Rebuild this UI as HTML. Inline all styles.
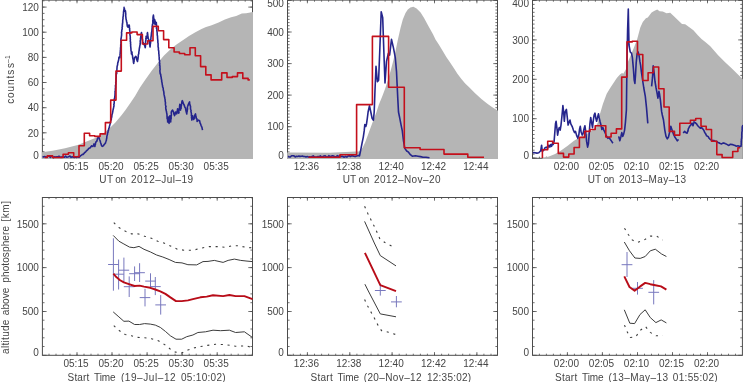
<!DOCTYPE html>
<html><head><meta charset="utf-8"><title>chart</title>
<style>html,body{margin:0;padding:0;background:#fff;}svg{display:block;will-change:transform;}</style></head>
<body>
<svg width="743" height="382" viewBox="0 0 743 382" font-family="Liberation Sans, sans-serif" fill="#454545">
<rect width="743" height="382" fill="#fff"/>
<g stroke="#4c4c4c" stroke-width="1" fill="none" shape-rendering="auto">
<rect x="42.4" y="0.1" width="210.1" height="158.2"/>
<path d="M77.0 158.2 v-3.2 M77.0 0.1 v3.2 M112.0 158.2 v-3.2 M112.0 0.1 v3.2 M147.1 158.2 v-3.2 M147.1 0.1 v3.2 M182.1 158.2 v-3.2 M182.1 0.1 v3.2 M217.2 158.2 v-3.2 M217.2 0.1 v3.2 M49.0 158.2 v-1.6 M49.0 0.1 v1.6 M56.0 158.2 v-1.6 M56.0 0.1 v1.6 M63.0 158.2 v-1.6 M63.0 0.1 v1.6 M70.0 158.2 v-1.6 M70.0 0.1 v1.6 M77.0 158.2 v-1.6 M77.0 0.1 v1.6 M84.0 158.2 v-1.6 M84.0 0.1 v1.6 M91.0 158.2 v-1.6 M91.0 0.1 v1.6 M98.0 158.2 v-1.6 M98.0 0.1 v1.6 M105.0 158.2 v-1.6 M105.0 0.1 v1.6 M112.0 158.2 v-1.6 M112.0 0.1 v1.6 M119.1 158.2 v-1.6 M119.1 0.1 v1.6 M126.1 158.2 v-1.6 M126.1 0.1 v1.6 M133.1 158.2 v-1.6 M133.1 0.1 v1.6 M140.1 158.2 v-1.6 M140.1 0.1 v1.6 M147.1 158.2 v-1.6 M147.1 0.1 v1.6 M154.1 158.2 v-1.6 M154.1 0.1 v1.6 M161.1 158.2 v-1.6 M161.1 0.1 v1.6 M168.1 158.2 v-1.6 M168.1 0.1 v1.6 M175.1 158.2 v-1.6 M175.1 0.1 v1.6 M182.1 158.2 v-1.6 M182.1 0.1 v1.6 M189.2 158.2 v-1.6 M189.2 0.1 v1.6 M196.2 158.2 v-1.6 M196.2 0.1 v1.6 M203.2 158.2 v-1.6 M203.2 0.1 v1.6 M210.2 158.2 v-1.6 M210.2 0.1 v1.6 M217.2 158.2 v-1.6 M217.2 0.1 v1.6 M224.2 158.2 v-1.6 M224.2 0.1 v1.6 M231.2 158.2 v-1.6 M231.2 0.1 v1.6 M238.2 158.2 v-1.6 M238.2 0.1 v1.6 M245.2 158.2 v-1.6 M245.2 0.1 v1.6 M252.2 158.2 v-1.6 M252.2 0.1 v1.6 M42.4 158.0 h4.2 M252.5 158.0 h-4.2 M42.4 132.8 h4.2 M252.5 132.8 h-4.2 M42.4 107.7 h4.2 M252.5 107.7 h-4.2 M42.4 82.5 h4.2 M252.5 82.5 h-4.2 M42.4 57.4 h4.2 M252.5 57.4 h-4.2 M42.4 32.2 h4.2 M252.5 32.2 h-4.2 M42.4 7.1 h4.2 M252.5 7.1 h-4.2 M42.4 158.0 h2.1 M252.5 158.0 h-2.1 M42.4 151.7 h2.1 M252.5 151.7 h-2.1 M42.4 145.4 h2.1 M252.5 145.4 h-2.1 M42.4 139.1 h2.1 M252.5 139.1 h-2.1 M42.4 132.8 h2.1 M252.5 132.8 h-2.1 M42.4 126.6 h2.1 M252.5 126.6 h-2.1 M42.4 120.3 h2.1 M252.5 120.3 h-2.1 M42.4 114.0 h2.1 M252.5 114.0 h-2.1 M42.4 107.7 h2.1 M252.5 107.7 h-2.1 M42.4 101.4 h2.1 M252.5 101.4 h-2.1 M42.4 95.1 h2.1 M252.5 95.1 h-2.1 M42.4 88.8 h2.1 M252.5 88.8 h-2.1 M42.4 82.5 h2.1 M252.5 82.5 h-2.1 M42.4 76.3 h2.1 M252.5 76.3 h-2.1 M42.4 70.0 h2.1 M252.5 70.0 h-2.1 M42.4 63.7 h2.1 M252.5 63.7 h-2.1 M42.4 57.4 h2.1 M252.5 57.4 h-2.1 M42.4 51.1 h2.1 M252.5 51.1 h-2.1 M42.4 44.8 h2.1 M252.5 44.8 h-2.1 M42.4 38.5 h2.1 M252.5 38.5 h-2.1 M42.4 32.2 h2.1 M252.5 32.2 h-2.1 M42.4 26.0 h2.1 M252.5 26.0 h-2.1 M42.4 19.7 h2.1 M252.5 19.7 h-2.1 M42.4 13.4 h2.1 M252.5 13.4 h-2.1 M42.4 7.1 h2.1 M252.5 7.1 h-2.1 M42.4 0.8 h2.1 M252.5 0.8 h-2.1" stroke-width="0.8"/>
</g>
<g stroke="#4c4c4c" stroke-width="1" fill="none" shape-rendering="auto">
<rect x="287.5" y="0.1" width="210.0" height="158.2"/>
<path d="M307.4 158.2 v-3.2 M307.4 0.1 v3.2 M349.8 158.2 v-3.2 M349.8 0.1 v3.2 M392.1 158.2 v-3.2 M392.1 0.1 v3.2 M434.5 158.2 v-3.2 M434.5 0.1 v3.2 M476.9 158.2 v-3.2 M476.9 0.1 v3.2 M293.3 158.2 v-1.6 M293.3 0.1 v1.6 M300.4 158.2 v-1.6 M300.4 0.1 v1.6 M307.4 158.2 v-1.6 M307.4 0.1 v1.6 M314.5 158.2 v-1.6 M314.5 0.1 v1.6 M321.6 158.2 v-1.6 M321.6 0.1 v1.6 M328.6 158.2 v-1.6 M328.6 0.1 v1.6 M335.7 158.2 v-1.6 M335.7 0.1 v1.6 M342.7 158.2 v-1.6 M342.7 0.1 v1.6 M349.8 158.2 v-1.6 M349.8 0.1 v1.6 M356.9 158.2 v-1.6 M356.9 0.1 v1.6 M363.9 158.2 v-1.6 M363.9 0.1 v1.6 M371.0 158.2 v-1.6 M371.0 0.1 v1.6 M378.0 158.2 v-1.6 M378.0 0.1 v1.6 M385.1 158.2 v-1.6 M385.1 0.1 v1.6 M392.1 158.2 v-1.6 M392.1 0.1 v1.6 M399.2 158.2 v-1.6 M399.2 0.1 v1.6 M406.3 158.2 v-1.6 M406.3 0.1 v1.6 M413.3 158.2 v-1.6 M413.3 0.1 v1.6 M420.4 158.2 v-1.6 M420.4 0.1 v1.6 M427.4 158.2 v-1.6 M427.4 0.1 v1.6 M434.5 158.2 v-1.6 M434.5 0.1 v1.6 M441.6 158.2 v-1.6 M441.6 0.1 v1.6 M448.6 158.2 v-1.6 M448.6 0.1 v1.6 M455.7 158.2 v-1.6 M455.7 0.1 v1.6 M462.7 158.2 v-1.6 M462.7 0.1 v1.6 M469.8 158.2 v-1.6 M469.8 0.1 v1.6 M476.8 158.2 v-1.6 M476.8 0.1 v1.6 M483.9 158.2 v-1.6 M483.9 0.1 v1.6 M491.0 158.2 v-1.6 M491.0 0.1 v1.6 M287.5 158.2 h4.2 M497.5 158.2 h-4.2 M287.5 126.7 h4.2 M497.5 126.7 h-4.2 M287.5 95.1 h4.2 M497.5 95.1 h-4.2 M287.5 63.6 h4.2 M497.5 63.6 h-4.2 M287.5 32.0 h4.2 M497.5 32.0 h-4.2 M287.5 0.5 h4.2 M497.5 0.5 h-4.2 M287.5 158.2 h2.1 M497.5 158.2 h-2.1 M287.5 155.0 h2.1 M497.5 155.0 h-2.1 M287.5 151.9 h2.1 M497.5 151.9 h-2.1 M287.5 148.7 h2.1 M497.5 148.7 h-2.1 M287.5 145.6 h2.1 M497.5 145.6 h-2.1 M287.5 142.4 h2.1 M497.5 142.4 h-2.1 M287.5 139.3 h2.1 M497.5 139.3 h-2.1 M287.5 136.1 h2.1 M497.5 136.1 h-2.1 M287.5 133.0 h2.1 M497.5 133.0 h-2.1 M287.5 129.8 h2.1 M497.5 129.8 h-2.1 M287.5 126.7 h2.1 M497.5 126.7 h-2.1 M287.5 123.5 h2.1 M497.5 123.5 h-2.1 M287.5 120.4 h2.1 M497.5 120.4 h-2.1 M287.5 117.2 h2.1 M497.5 117.2 h-2.1 M287.5 114.0 h2.1 M497.5 114.0 h-2.1 M287.5 110.9 h2.1 M497.5 110.9 h-2.1 M287.5 107.7 h2.1 M497.5 107.7 h-2.1 M287.5 104.6 h2.1 M497.5 104.6 h-2.1 M287.5 101.4 h2.1 M497.5 101.4 h-2.1 M287.5 98.3 h2.1 M497.5 98.3 h-2.1 M287.5 95.1 h2.1 M497.5 95.1 h-2.1 M287.5 92.0 h2.1 M497.5 92.0 h-2.1 M287.5 88.8 h2.1 M497.5 88.8 h-2.1 M287.5 85.7 h2.1 M497.5 85.7 h-2.1 M287.5 82.5 h2.1 M497.5 82.5 h-2.1 M287.5 79.3 h2.1 M497.5 79.3 h-2.1 M287.5 76.2 h2.1 M497.5 76.2 h-2.1 M287.5 73.0 h2.1 M497.5 73.0 h-2.1 M287.5 69.9 h2.1 M497.5 69.9 h-2.1 M287.5 66.7 h2.1 M497.5 66.7 h-2.1 M287.5 63.6 h2.1 M497.5 63.6 h-2.1 M287.5 60.4 h2.1 M497.5 60.4 h-2.1 M287.5 57.3 h2.1 M497.5 57.3 h-2.1 M287.5 54.1 h2.1 M497.5 54.1 h-2.1 M287.5 51.0 h2.1 M497.5 51.0 h-2.1 M287.5 47.8 h2.1 M497.5 47.8 h-2.1 M287.5 44.7 h2.1 M497.5 44.7 h-2.1 M287.5 41.5 h2.1 M497.5 41.5 h-2.1 M287.5 38.3 h2.1 M497.5 38.3 h-2.1 M287.5 35.2 h2.1 M497.5 35.2 h-2.1 M287.5 32.0 h2.1 M497.5 32.0 h-2.1 M287.5 28.9 h2.1 M497.5 28.9 h-2.1 M287.5 25.7 h2.1 M497.5 25.7 h-2.1 M287.5 22.6 h2.1 M497.5 22.6 h-2.1 M287.5 19.4 h2.1 M497.5 19.4 h-2.1 M287.5 16.3 h2.1 M497.5 16.3 h-2.1 M287.5 13.1 h2.1 M497.5 13.1 h-2.1 M287.5 10.0 h2.1 M497.5 10.0 h-2.1 M287.5 6.8 h2.1 M497.5 6.8 h-2.1 M287.5 3.7 h2.1 M497.5 3.7 h-2.1 M287.5 0.5 h2.1 M497.5 0.5 h-2.1" stroke-width="0.8"/>
</g>
<g stroke="#4c4c4c" stroke-width="1" fill="none" shape-rendering="auto">
<rect x="532.5" y="0.1" width="209.9" height="158.2"/>
<path d="M567.4 158.2 v-3.2 M567.4 0.1 v3.2 M602.4 158.2 v-3.2 M602.4 0.1 v3.2 M637.5 158.2 v-3.2 M637.5 0.1 v3.2 M672.5 158.2 v-3.2 M672.5 0.1 v3.2 M707.5 158.2 v-3.2 M707.5 0.1 v3.2 M539.4 158.2 v-1.6 M539.4 0.1 v1.6 M546.4 158.2 v-1.6 M546.4 0.1 v1.6 M553.4 158.2 v-1.6 M553.4 0.1 v1.6 M560.4 158.2 v-1.6 M560.4 0.1 v1.6 M567.4 158.2 v-1.6 M567.4 0.1 v1.6 M574.4 158.2 v-1.6 M574.4 0.1 v1.6 M581.4 158.2 v-1.6 M581.4 0.1 v1.6 M588.4 158.2 v-1.6 M588.4 0.1 v1.6 M595.4 158.2 v-1.6 M595.4 0.1 v1.6 M602.4 158.2 v-1.6 M602.4 0.1 v1.6 M609.4 158.2 v-1.6 M609.4 0.1 v1.6 M616.4 158.2 v-1.6 M616.4 0.1 v1.6 M623.4 158.2 v-1.6 M623.4 0.1 v1.6 M630.5 158.2 v-1.6 M630.5 0.1 v1.6 M637.5 158.2 v-1.6 M637.5 0.1 v1.6 M644.5 158.2 v-1.6 M644.5 0.1 v1.6 M651.5 158.2 v-1.6 M651.5 0.1 v1.6 M658.5 158.2 v-1.6 M658.5 0.1 v1.6 M665.5 158.2 v-1.6 M665.5 0.1 v1.6 M672.5 158.2 v-1.6 M672.5 0.1 v1.6 M679.5 158.2 v-1.6 M679.5 0.1 v1.6 M686.5 158.2 v-1.6 M686.5 0.1 v1.6 M693.5 158.2 v-1.6 M693.5 0.1 v1.6 M700.5 158.2 v-1.6 M700.5 0.1 v1.6 M707.5 158.2 v-1.6 M707.5 0.1 v1.6 M714.5 158.2 v-1.6 M714.5 0.1 v1.6 M721.5 158.2 v-1.6 M721.5 0.1 v1.6 M728.5 158.2 v-1.6 M728.5 0.1 v1.6 M735.5 158.2 v-1.6 M735.5 0.1 v1.6 M532.5 158.1 h4.2 M742.4 158.1 h-4.2 M532.5 118.7 h4.2 M742.4 118.7 h-4.2 M532.5 79.3 h4.2 M742.4 79.3 h-4.2 M532.5 39.9 h4.2 M742.4 39.9 h-4.2 M532.5 0.5 h4.2 M742.4 0.5 h-4.2 M532.5 158.1 h2.1 M742.4 158.1 h-2.1 M532.5 154.2 h2.1 M742.4 154.2 h-2.1 M532.5 150.2 h2.1 M742.4 150.2 h-2.1 M532.5 146.3 h2.1 M742.4 146.3 h-2.1 M532.5 142.3 h2.1 M742.4 142.3 h-2.1 M532.5 138.4 h2.1 M742.4 138.4 h-2.1 M532.5 134.5 h2.1 M742.4 134.5 h-2.1 M532.5 130.5 h2.1 M742.4 130.5 h-2.1 M532.5 126.6 h2.1 M742.4 126.6 h-2.1 M532.5 122.6 h2.1 M742.4 122.6 h-2.1 M532.5 118.7 h2.1 M742.4 118.7 h-2.1 M532.5 114.8 h2.1 M742.4 114.8 h-2.1 M532.5 110.8 h2.1 M742.4 110.8 h-2.1 M532.5 106.9 h2.1 M742.4 106.9 h-2.1 M532.5 102.9 h2.1 M742.4 102.9 h-2.1 M532.5 99.0 h2.1 M742.4 99.0 h-2.1 M532.5 95.1 h2.1 M742.4 95.1 h-2.1 M532.5 91.1 h2.1 M742.4 91.1 h-2.1 M532.5 87.2 h2.1 M742.4 87.2 h-2.1 M532.5 83.2 h2.1 M742.4 83.2 h-2.1 M532.5 79.3 h2.1 M742.4 79.3 h-2.1 M532.5 75.4 h2.1 M742.4 75.4 h-2.1 M532.5 71.4 h2.1 M742.4 71.4 h-2.1 M532.5 67.5 h2.1 M742.4 67.5 h-2.1 M532.5 63.5 h2.1 M742.4 63.5 h-2.1 M532.5 59.6 h2.1 M742.4 59.6 h-2.1 M532.5 55.7 h2.1 M742.4 55.7 h-2.1 M532.5 51.7 h2.1 M742.4 51.7 h-2.1 M532.5 47.8 h2.1 M742.4 47.8 h-2.1 M532.5 43.8 h2.1 M742.4 43.8 h-2.1 M532.5 39.9 h2.1 M742.4 39.9 h-2.1 M532.5 36.0 h2.1 M742.4 36.0 h-2.1 M532.5 32.0 h2.1 M742.4 32.0 h-2.1 M532.5 28.1 h2.1 M742.4 28.1 h-2.1 M532.5 24.1 h2.1 M742.4 24.1 h-2.1 M532.5 20.2 h2.1 M742.4 20.2 h-2.1 M532.5 16.3 h2.1 M742.4 16.3 h-2.1 M532.5 12.3 h2.1 M742.4 12.3 h-2.1 M532.5 8.4 h2.1 M742.4 8.4 h-2.1 M532.5 4.4 h2.1 M742.4 4.4 h-2.1 M532.5 0.5 h2.1 M742.4 0.5 h-2.1" stroke-width="0.8"/>
</g>
<g stroke="#4c4c4c" stroke-width="1" fill="none" shape-rendering="auto">
<rect x="42.4" y="197.5" width="210.1" height="157.8"/>
<path d="M77.0 355.3 v-3.2 M77.0 197.5 v3.2 M112.0 355.3 v-3.2 M112.0 197.5 v3.2 M147.1 355.3 v-3.2 M147.1 197.5 v3.2 M182.1 355.3 v-3.2 M182.1 197.5 v3.2 M217.2 355.3 v-3.2 M217.2 197.5 v3.2 M49.0 355.3 v-1.6 M49.0 197.5 v1.6 M56.0 355.3 v-1.6 M56.0 197.5 v1.6 M63.0 355.3 v-1.6 M63.0 197.5 v1.6 M70.0 355.3 v-1.6 M70.0 197.5 v1.6 M77.0 355.3 v-1.6 M77.0 197.5 v1.6 M84.0 355.3 v-1.6 M84.0 197.5 v1.6 M91.0 355.3 v-1.6 M91.0 197.5 v1.6 M98.0 355.3 v-1.6 M98.0 197.5 v1.6 M105.0 355.3 v-1.6 M105.0 197.5 v1.6 M112.0 355.3 v-1.6 M112.0 197.5 v1.6 M119.1 355.3 v-1.6 M119.1 197.5 v1.6 M126.1 355.3 v-1.6 M126.1 197.5 v1.6 M133.1 355.3 v-1.6 M133.1 197.5 v1.6 M140.1 355.3 v-1.6 M140.1 197.5 v1.6 M147.1 355.3 v-1.6 M147.1 197.5 v1.6 M154.1 355.3 v-1.6 M154.1 197.5 v1.6 M161.1 355.3 v-1.6 M161.1 197.5 v1.6 M168.1 355.3 v-1.6 M168.1 197.5 v1.6 M175.1 355.3 v-1.6 M175.1 197.5 v1.6 M182.1 355.3 v-1.6 M182.1 197.5 v1.6 M189.2 355.3 v-1.6 M189.2 197.5 v1.6 M196.2 355.3 v-1.6 M196.2 197.5 v1.6 M203.2 355.3 v-1.6 M203.2 197.5 v1.6 M210.2 355.3 v-1.6 M210.2 197.5 v1.6 M217.2 355.3 v-1.6 M217.2 197.5 v1.6 M224.2 355.3 v-1.6 M224.2 197.5 v1.6 M231.2 355.3 v-1.6 M231.2 197.5 v1.6 M238.2 355.3 v-1.6 M238.2 197.5 v1.6 M245.2 355.3 v-1.6 M245.2 197.5 v1.6 M252.2 355.3 v-1.6 M252.2 197.5 v1.6 M42.4 355.3 h4.2 M252.5 355.3 h-4.2 M42.4 311.5 h4.2 M252.5 311.5 h-4.2 M42.4 267.6 h4.2 M252.5 267.6 h-4.2 M42.4 223.8 h4.2 M252.5 223.8 h-4.2 M42.4 346.5 h2.1 M252.5 346.5 h-2.1 M42.4 337.8 h2.1 M252.5 337.8 h-2.1 M42.4 329.0 h2.1 M252.5 329.0 h-2.1 M42.4 320.2 h2.1 M252.5 320.2 h-2.1 M42.4 311.5 h2.1 M252.5 311.5 h-2.1 M42.4 302.7 h2.1 M252.5 302.7 h-2.1 M42.4 293.9 h2.1 M252.5 293.9 h-2.1 M42.4 285.2 h2.1 M252.5 285.2 h-2.1 M42.4 276.4 h2.1 M252.5 276.4 h-2.1 M42.4 267.6 h2.1 M252.5 267.6 h-2.1 M42.4 258.9 h2.1 M252.5 258.9 h-2.1 M42.4 250.1 h2.1 M252.5 250.1 h-2.1 M42.4 241.3 h2.1 M252.5 241.3 h-2.1 M42.4 232.6 h2.1 M252.5 232.6 h-2.1 M42.4 223.8 h2.1 M252.5 223.8 h-2.1 M42.4 215.0 h2.1 M252.5 215.0 h-2.1 M42.4 206.3 h2.1 M252.5 206.3 h-2.1" stroke-width="0.8"/>
</g>
<g stroke="#4c4c4c" stroke-width="1" fill="none" shape-rendering="auto">
<rect x="287.5" y="197.5" width="210.0" height="157.8"/>
<path d="M307.4 355.3 v-3.2 M307.4 197.5 v3.2 M349.8 355.3 v-3.2 M349.8 197.5 v3.2 M392.1 355.3 v-3.2 M392.1 197.5 v3.2 M434.5 355.3 v-3.2 M434.5 197.5 v3.2 M476.9 355.3 v-3.2 M476.9 197.5 v3.2 M293.3 355.3 v-1.6 M293.3 197.5 v1.6 M300.4 355.3 v-1.6 M300.4 197.5 v1.6 M307.4 355.3 v-1.6 M307.4 197.5 v1.6 M314.5 355.3 v-1.6 M314.5 197.5 v1.6 M321.6 355.3 v-1.6 M321.6 197.5 v1.6 M328.6 355.3 v-1.6 M328.6 197.5 v1.6 M335.7 355.3 v-1.6 M335.7 197.5 v1.6 M342.7 355.3 v-1.6 M342.7 197.5 v1.6 M349.8 355.3 v-1.6 M349.8 197.5 v1.6 M356.9 355.3 v-1.6 M356.9 197.5 v1.6 M363.9 355.3 v-1.6 M363.9 197.5 v1.6 M371.0 355.3 v-1.6 M371.0 197.5 v1.6 M378.0 355.3 v-1.6 M378.0 197.5 v1.6 M385.1 355.3 v-1.6 M385.1 197.5 v1.6 M392.1 355.3 v-1.6 M392.1 197.5 v1.6 M399.2 355.3 v-1.6 M399.2 197.5 v1.6 M406.3 355.3 v-1.6 M406.3 197.5 v1.6 M413.3 355.3 v-1.6 M413.3 197.5 v1.6 M420.4 355.3 v-1.6 M420.4 197.5 v1.6 M427.4 355.3 v-1.6 M427.4 197.5 v1.6 M434.5 355.3 v-1.6 M434.5 197.5 v1.6 M441.6 355.3 v-1.6 M441.6 197.5 v1.6 M448.6 355.3 v-1.6 M448.6 197.5 v1.6 M455.7 355.3 v-1.6 M455.7 197.5 v1.6 M462.7 355.3 v-1.6 M462.7 197.5 v1.6 M469.8 355.3 v-1.6 M469.8 197.5 v1.6 M476.8 355.3 v-1.6 M476.8 197.5 v1.6 M483.9 355.3 v-1.6 M483.9 197.5 v1.6 M491.0 355.3 v-1.6 M491.0 197.5 v1.6 M287.5 355.3 h4.2 M497.5 355.3 h-4.2 M287.5 311.5 h4.2 M497.5 311.5 h-4.2 M287.5 267.6 h4.2 M497.5 267.6 h-4.2 M287.5 223.8 h4.2 M497.5 223.8 h-4.2 M287.5 346.5 h2.1 M497.5 346.5 h-2.1 M287.5 337.8 h2.1 M497.5 337.8 h-2.1 M287.5 329.0 h2.1 M497.5 329.0 h-2.1 M287.5 320.2 h2.1 M497.5 320.2 h-2.1 M287.5 311.5 h2.1 M497.5 311.5 h-2.1 M287.5 302.7 h2.1 M497.5 302.7 h-2.1 M287.5 293.9 h2.1 M497.5 293.9 h-2.1 M287.5 285.2 h2.1 M497.5 285.2 h-2.1 M287.5 276.4 h2.1 M497.5 276.4 h-2.1 M287.5 267.6 h2.1 M497.5 267.6 h-2.1 M287.5 258.9 h2.1 M497.5 258.9 h-2.1 M287.5 250.1 h2.1 M497.5 250.1 h-2.1 M287.5 241.3 h2.1 M497.5 241.3 h-2.1 M287.5 232.6 h2.1 M497.5 232.6 h-2.1 M287.5 223.8 h2.1 M497.5 223.8 h-2.1 M287.5 215.0 h2.1 M497.5 215.0 h-2.1 M287.5 206.3 h2.1 M497.5 206.3 h-2.1" stroke-width="0.8"/>
</g>
<g stroke="#4c4c4c" stroke-width="1" fill="none" shape-rendering="auto">
<rect x="532.5" y="197.5" width="209.9" height="157.8"/>
<path d="M567.4 355.3 v-3.2 M567.4 197.5 v3.2 M602.4 355.3 v-3.2 M602.4 197.5 v3.2 M637.5 355.3 v-3.2 M637.5 197.5 v3.2 M672.5 355.3 v-3.2 M672.5 197.5 v3.2 M707.5 355.3 v-3.2 M707.5 197.5 v3.2 M539.4 355.3 v-1.6 M539.4 197.5 v1.6 M546.4 355.3 v-1.6 M546.4 197.5 v1.6 M553.4 355.3 v-1.6 M553.4 197.5 v1.6 M560.4 355.3 v-1.6 M560.4 197.5 v1.6 M567.4 355.3 v-1.6 M567.4 197.5 v1.6 M574.4 355.3 v-1.6 M574.4 197.5 v1.6 M581.4 355.3 v-1.6 M581.4 197.5 v1.6 M588.4 355.3 v-1.6 M588.4 197.5 v1.6 M595.4 355.3 v-1.6 M595.4 197.5 v1.6 M602.4 355.3 v-1.6 M602.4 197.5 v1.6 M609.4 355.3 v-1.6 M609.4 197.5 v1.6 M616.4 355.3 v-1.6 M616.4 197.5 v1.6 M623.4 355.3 v-1.6 M623.4 197.5 v1.6 M630.5 355.3 v-1.6 M630.5 197.5 v1.6 M637.5 355.3 v-1.6 M637.5 197.5 v1.6 M644.5 355.3 v-1.6 M644.5 197.5 v1.6 M651.5 355.3 v-1.6 M651.5 197.5 v1.6 M658.5 355.3 v-1.6 M658.5 197.5 v1.6 M665.5 355.3 v-1.6 M665.5 197.5 v1.6 M672.5 355.3 v-1.6 M672.5 197.5 v1.6 M679.5 355.3 v-1.6 M679.5 197.5 v1.6 M686.5 355.3 v-1.6 M686.5 197.5 v1.6 M693.5 355.3 v-1.6 M693.5 197.5 v1.6 M700.5 355.3 v-1.6 M700.5 197.5 v1.6 M707.5 355.3 v-1.6 M707.5 197.5 v1.6 M714.5 355.3 v-1.6 M714.5 197.5 v1.6 M721.5 355.3 v-1.6 M721.5 197.5 v1.6 M728.5 355.3 v-1.6 M728.5 197.5 v1.6 M735.5 355.3 v-1.6 M735.5 197.5 v1.6 M532.5 355.3 h4.2 M742.4 355.3 h-4.2 M532.5 311.5 h4.2 M742.4 311.5 h-4.2 M532.5 267.6 h4.2 M742.4 267.6 h-4.2 M532.5 223.8 h4.2 M742.4 223.8 h-4.2 M532.5 346.5 h2.1 M742.4 346.5 h-2.1 M532.5 337.8 h2.1 M742.4 337.8 h-2.1 M532.5 329.0 h2.1 M742.4 329.0 h-2.1 M532.5 320.2 h2.1 M742.4 320.2 h-2.1 M532.5 311.5 h2.1 M742.4 311.5 h-2.1 M532.5 302.7 h2.1 M742.4 302.7 h-2.1 M532.5 293.9 h2.1 M742.4 293.9 h-2.1 M532.5 285.2 h2.1 M742.4 285.2 h-2.1 M532.5 276.4 h2.1 M742.4 276.4 h-2.1 M532.5 267.6 h2.1 M742.4 267.6 h-2.1 M532.5 258.9 h2.1 M742.4 258.9 h-2.1 M532.5 250.1 h2.1 M742.4 250.1 h-2.1 M532.5 241.3 h2.1 M742.4 241.3 h-2.1 M532.5 232.6 h2.1 M742.4 232.6 h-2.1 M532.5 223.8 h2.1 M742.4 223.8 h-2.1 M532.5 215.0 h2.1 M742.4 215.0 h-2.1 M532.5 206.3 h2.1 M742.4 206.3 h-2.1" stroke-width="0.8"/>
</g>
<path d="M41.8 158.9 L41.8 152.3 L52.6 150.8 L65.1 148.3 L77.7 145.0 L90.3 140.0 L96.6 137.4 L102.8 133.7 L109.1 128.7 L115.4 122.5 L121.7 115.0 L125.5 110.0 L130.7 102.6 L135.1 96.0 L140.0 87.5 L145.1 80.0 L151.5 71.0 L157.7 63.0 L164.0 55.5 L170.3 49.5 L176.5 44.5 L182.8 40.2 L189.0 36.0 L195.4 32.2 L201.5 29.0 L206.0 27.0 L211.0 25.6 L218.6 22.6 L224.9 19.5 L231.1 17.3 L236.2 16.1 L241.8 13.6 L246.2 13.2 L253.0 12.0 L253.0 158.9 Z" fill="#b5b5b5"/>
<path d="M287.1 158.9 L287.1 152.6 L330.0 152.8 L356.0 151.5 L359.0 151.5 L361.0 150.0 L363.0 147.0 L365.2 142.2 L367.7 135.5 L370.2 128.8 L372.7 122.1 L374.6 117.0 L376.5 112.0 L378.9 104.5 L382.4 96.0 L385.2 88.5 L388.0 80.0 L390.7 70.4 L393.2 61.0 L395.7 50.3 L397.8 40.0 L400.5 28.0 L402.8 19.5 L405.5 13.0 L407.8 9.4 L410.4 7.6 L413.4 6.8 L416.6 8.5 L420.6 12.6 L424.2 18.2 L428.1 25.5 L433.0 34.2 L435.5 39.5 L438.8 44.6 L442.6 50.7 L446.3 57.0 L450.1 62.6 L453.9 68.3 L457.6 73.9 L461.4 79.0 L465.2 83.4 L468.9 86.9 L475.1 93.2 L481.4 98.9 L487.7 103.9 L492.7 107.4 L498.0 110.8 L498.0 158.9 Z" fill="#b5b5b5"/>
<path d="M542.6 158.9 L542.6 158.0 L548.9 156.5 L555.1 154.0 L561.4 150.2 L567.7 145.8 L574.0 140.8 L580.3 137.0 L586.6 133.9 L592.8 130.1 L596.0 126.0 L597.9 122.6 L599.8 114.5 L602.9 103.9 L606.7 93.8 L610.2 88.0 L613.5 83.0 L617.0 77.7 L620.0 74.5 L622.0 72.9 L623.3 73.7 L625.8 69.5 L627.7 62.6 L630.0 57.0 L634.0 47.5 L637.1 39.5 L640.3 27.6 L642.8 22.0 L645.9 18.2 L647.8 17.6 L651.6 12.6 L654.1 11.1 L657.2 9.4 L659.6 11.3 L662.8 11.5 L666.5 13.2 L670.2 12.7 L673.4 15.7 L677.8 20.1 L682.0 23.9 L685.2 24.3 L689.0 27.0 L693.4 30.2 L697.8 35.2 L701.5 39.0 L705.3 42.1 L710.3 46.3 L717.9 55.1 L725.4 62.6 L732.9 69.5 L740.5 77.1 L742.8 79.2 L742.8 158.9 Z" fill="#b5b5b5"/>
<path d="M42.5 156.4 L43.6 156.9 L44.7 156.6 L45.8 157.0 L46.9 157.0 L48.0 156.1 L49.1 156.0 L50.2 157.3 L51.3 156.4 L52.4 156.4 L53.5 157.6 L54.6 156.8 L55.7 157.3 L56.8 156.8 L57.9 157.0 L59.0 156.2 L60.1 157.0 L61.2 157.4 L62.3 156.8 L63.4 157.2 L64.5 157.1 L65.6 156.1 L66.7 157.2 L67.8 156.9 L68.9 156.5 L70.0 156.0 L71.1 157.4 L72.2 156.8 L73.3 157.2 L74.4 157.4 L75.5 157.1 L76.6 157.5 L77.7 156.6 L78.8 157.3 L79.0 157.3 L79.7 156.7 L80.8 155.4 L81.5 155.2 L82.5 154.4 L83.1 154.5 L84.0 153.4 L84.8 152.5 L85.7 151.8 L86.5 150.8 L87.8 149.6 L89.0 148.3 L90.3 147.7 L90.9 146.8 L91.5 145.8 L92.8 146.4 L93.4 145.7 L94.0 143.9 L94.5 145.1 L94.9 146.4 L95.1 145.0 L95.4 144.8 L95.5 143.2 L95.9 142.0 L96.8 141.4 L97.1 140.3 L97.4 138.8 L97.6 138.3 L98.4 137.0 L99.3 138.3 L99.5 139.5 L100.0 140.5 L100.3 141.4 L100.6 142.7 L101.0 143.8 L101.1 144.1 L101.6 145.8 L102.5 146.4 L103.5 145.7 L104.1 144.6 L105.4 143.3 L105.7 142.0 L106.0 141.3 L106.4 140.2 L106.5 139.0 L106.8 138.0 L106.8 136.9 L106.9 136.4 L107.2 135.1 L107.5 134.2 L107.6 132.9 L107.9 132.5 L108.2 130.7 L108.5 130.1 L108.6 129.3 L109.0 127.9 L109.3 127.5 L109.4 126.5 L109.8 125.1 L110.1 123.9 L110.3 123.6 L110.4 121.8 L110.6 121.1 L111.0 120.1 L111.3 119.4 L111.4 117.6 L111.7 117.3 L111.8 116.3 L112.0 114.4 L112.3 113.8 L112.5 113.0 L112.8 111.3 L113.0 110.2 L113.1 109.7 L113.5 108.0 L113.8 106.4 L113.9 106.5 L114.0 104.9 L113.8 104.5 L114.2 103.3 L114.2 102.2 L114.2 100.7 L114.2 99.7 L114.4 99.1 L114.4 98.4 L114.8 97.5 L114.8 96.0 L115.0 95.5 L115.0 94.5 L115.1 92.4 L115.0 91.6 L115.2 91.2 L115.4 89.9 L115.3 89.1 L115.5 87.7 L115.6 87.0 L115.4 85.8 L115.7 85.0 L115.8 83.6 L115.9 83.5 L115.7 82.4 L116.1 81.2 L116.0 80.0 L116.0 78.5 L116.2 77.7 L116.2 76.9 L116.2 76.3 L116.3 74.5 L116.3 73.5 L116.7 73.6 L116.7 71.5 L116.7 70.8 L116.9 69.8 L116.9 69.1 L117.0 68.0 L117.1 66.5 L117.4 65.4 L117.6 65.0 L117.7 63.2 L118.0 62.4 L118.2 61.5 L118.4 60.7 L118.7 59.7 L118.8 58.1 L119.1 57.1 L119.9 57.7 L120.0 56.6 L120.1 55.5 L120.0 54.5 L120.2 53.5 L120.2 51.9 L120.4 51.3 L120.3 50.9 L120.5 49.8 L120.5 48.0 L120.7 46.7 L120.8 46.3 L120.7 45.1 L120.8 44.5 L120.9 43.4 L121.0 41.6 L120.9 40.5 L120.9 40.4 L121.0 38.6 L121.1 38.6 L121.4 36.5 L121.5 35.6 L121.6 35.3 L121.6 34.6 L121.6 33.1 L121.5 32.4 L121.8 31.2 L121.8 30.1 L122.2 29.0 L122.1 27.1 L122.4 26.6 L122.3 25.1 L122.5 24.0 L122.6 23.2 L122.7 22.4 L122.7 20.9 L122.8 19.8 L123.0 18.5 L123.0 18.5 L123.0 17.1 L123.3 16.0 L123.3 14.9 L123.5 13.6 L123.5 12.6 L123.5 12.0 L123.8 10.0 L123.9 9.9 L124.1 8.3 L124.1 7.3 L124.2 7.9 L124.5 8.9 L124.5 10.1 L124.8 11.3 L125.4 10.7 L125.6 12.1 L125.6 12.7 L125.8 14.0 L125.7 15.3 L125.7 16.0 L125.9 17.4 L126.0 18.6 L126.1 19.3 L126.5 20.7 L126.6 22.0 L127.0 22.6 L127.0 24.1 L127.2 25.1 L127.3 26.2 L127.9 27.2 L128.2 26.6 L128.5 25.2 L129.2 25.0 L129.4 26.1 L129.4 27.7 L129.7 28.8 L129.6 29.6 L129.8 30.8 L129.9 31.6 L130.1 33.2 L129.9 34.5 L129.9 34.8 L130.2 35.9 L130.3 37.8 L130.2 38.5 L130.4 39.2 L130.3 40.3 L130.3 41.8 L130.6 42.1 L130.5 43.3 L130.7 44.7 L130.6 45.0 L130.7 46.5 L130.8 47.6 L130.9 48.3 L131.0 50.2 L131.0 50.8 L131.3 51.5 L131.4 52.4 L131.4 53.9 L132.0 52.0 L132.0 53.6 L132.2 54.8 L132.5 55.7 L132.6 56.3 L132.7 57.7 L133.0 59.0 L133.2 59.7 L133.4 61.7 L133.4 62.3 L133.7 63.4 L133.8 62.3 L134.1 61.4 L134.1 60.1 L134.5 59.0 L134.6 57.7 L135.8 56.4 L136.4 57.3 L136.7 59.0 L137.0 60.4 L137.5 61.5 L137.5 61.0 L137.9 59.3 L138.0 58.6 L138.1 57.6 L138.3 56.4 L138.3 55.1 L138.7 53.8 L138.8 53.6 L138.8 52.6 L139.0 51.0 L139.2 50.2 L139.2 49.6 L139.4 48.2 L139.6 47.5 L139.8 45.9 L140.0 45.1 L140.2 44.0 L140.3 42.7 L140.2 41.3 L140.3 40.2 L140.6 39.9 L140.5 38.1 L140.8 37.3 L140.8 36.3 L141.1 35.4 L141.1 33.9 L141.5 32.6 L141.7 33.7 L142.1 35.1 L142.2 36.2 L142.2 36.8 L142.2 38.6 L142.6 39.7 L142.6 40.9 L142.7 41.4 L143.1 42.5 L143.5 43.6 L143.7 44.5 L144.6 43.9 L144.7 45.4 L145.0 46.8 L145.2 47.6 L145.4 46.7 L145.5 44.9 L145.4 44.7 L145.5 43.5 L145.6 42.1 L145.7 40.9 L145.8 40.6 L146.0 39.5 L145.8 38.8 L146.1 37.7 L146.1 36.3 L146.4 36.7 L146.8 38.2 L146.8 36.8 L147.2 36.0 L147.4 34.6 L147.2 34.0 L147.5 32.6 L147.7 34.0 L147.8 35.1 L147.8 35.9 L148.1 37.0 L148.1 37.6 L148.4 39.0 L148.8 39.5 L149.1 41.1 L149.4 42.0 L149.4 42.5 L149.5 43.5 L149.8 44.6 L149.9 46.2 L150.0 47.0 L150.2 45.9 L150.2 44.8 L150.3 44.3 L150.6 42.6 L150.6 42.0 L150.7 41.1 L150.8 39.5 L150.9 38.7 L151.0 36.8 L151.1 36.6 L151.3 35.1 L151.4 33.8 L151.6 32.2 L151.9 31.3 L151.9 30.2 L152.0 28.7 L152.2 27.8 L152.1 26.6 L152.4 26.1 L152.3 25.3 L152.6 24.0 L152.9 22.5 L152.8 22.0 L152.8 20.5 L152.9 19.7 L153.0 18.7 L153.0 16.9 L153.2 16.5 L153.4 15.1 L153.6 16.7 L153.7 18.2 L154.0 18.9 L154.0 19.6 L154.2 21.3 L154.1 21.7 L154.5 23.1 L154.4 23.9 L154.4 22.7 L154.6 20.8 L154.9 20.1 L154.9 20.8 L155.4 21.8 L155.4 23.9 L155.7 24.5 L156.3 22.6 L156.4 24.3 L156.6 25.1 L156.3 26.4 L156.6 26.7 L156.5 28.6 L156.9 28.9 L156.8 30.2 L156.9 30.8 L157.1 32.1 L157.2 33.3 L157.2 34.9 L157.5 35.9 L157.5 37.1 L157.6 38.3 L157.6 38.9 L157.8 40.1 L157.9 41.5 L157.8 42.0 L158.1 43.7 L158.1 44.8 L158.1 45.6 L158.1 47.0 L158.4 47.8 L158.4 48.9 L158.4 50.2 L158.7 50.7 L158.8 52.3 L158.8 53.6 L159.0 54.7 L159.0 55.1 L159.1 56.4 L159.2 57.0 L159.2 59.2 L159.3 59.8 L159.6 60.4 L159.6 62.0 L159.5 62.7 L159.8 63.7 L159.6 65.3 L160.0 65.9 L159.9 67.0 L160.0 68.3 L160.1 69.5 L159.9 70.5 L159.9 71.2 L160.1 72.6 L160.2 74.0 L160.6 74.0 L160.8 75.2 L160.8 76.1 L161.2 77.3 L161.3 78.7 L161.6 79.9 L161.7 80.4 L161.7 81.5 L162.0 82.6 L162.2 84.0 L162.3 85.0 L162.6 85.7 L162.6 86.9 L162.9 87.5 L163.2 88.1 L163.3 90.0 L163.6 90.9 L163.7 91.3 L163.9 92.7 L164.0 94.4 L164.1 94.8 L164.3 95.6 L164.7 97.5 L164.9 98.5 L165.1 99.3 L165.1 100.2 L165.2 101.3 L165.5 102.9 L165.4 104.0 L165.5 104.9 L165.8 106.3 L165.9 106.6 L165.7 107.5 L165.9 109.3 L166.1 110.1 L166.3 111.1 L166.5 111.5 L166.6 112.8 L166.9 113.9 L167.0 115.1 L167.0 116.5 L167.1 116.9 L167.1 118.4 L167.5 119.3 L167.7 121.1 L167.6 122.0 L167.9 121.6 L167.8 119.8 L168.1 118.8 L168.3 118.0 L168.5 117.0 L168.7 117.9 L168.7 118.8 L168.9 120.6 L168.8 121.0 L168.8 122.6 L169.1 123.3 L169.2 121.8 L169.2 121.2 L169.3 119.5 L169.5 119.3 L169.8 118.4 L169.6 117.4 L169.9 115.7 L169.9 116.4 L170.1 117.7 L170.3 118.3 L170.4 119.4 L170.7 120.6 L170.7 122.0 L170.7 120.8 L170.9 119.3 L171.0 118.9 L171.2 118.2 L171.0 116.3 L171.3 115.9 L171.4 114.5 L171.3 113.5 L171.3 112.0 L171.6 111.3 L172.6 110.1 L173.2 111.5 L173.6 112.6 L173.9 114.1 L174.4 114.9 L174.5 115.7 L174.9 114.8 L175.2 113.1 L175.5 112.0 L175.9 112.6 L176.6 113.9 L177.0 113.1 L177.0 111.9 L177.2 110.7 L177.4 110.2 L177.6 108.8 L177.8 110.5 L178.2 110.8 L178.6 112.0 L178.7 113.2 L179.0 112.5 L178.8 111.1 L179.1 110.0 L179.2 108.8 L179.5 108.0 L179.6 106.1 L179.7 105.3 L179.8 104.4 L180.1 106.0 L180.0 106.9 L180.1 108.3 L180.5 108.8 L180.5 110.1 L180.6 108.8 L181.1 108.4 L181.1 106.6 L181.4 105.7 L181.4 104.4 L181.9 103.4 L181.8 102.2 L182.0 101.3 L182.3 100.7 L182.9 102.0 L183.3 103.2 L183.8 104.6 L184.3 105.1 L184.6 106.7 L185.2 107.6 L185.7 108.6 L185.7 109.5 L186.1 111.3 L186.4 112.6 L186.8 113.9 L186.8 112.9 L187.2 111.4 L187.3 110.2 L187.5 109.2 L187.5 108.7 L187.4 107.0 L187.7 106.3 L188.0 105.4 L188.6 103.8 L189.2 102.5 L189.6 101.9 L189.6 103.5 L190.0 104.7 L190.0 105.2 L190.5 106.3 L190.5 107.6 L190.5 108.3 L190.6 109.2 L191.1 110.4 L190.9 111.1 L191.2 112.6 L191.5 114.2 L191.3 115.3 L191.6 115.6 L191.6 116.9 L191.5 117.7 L191.8 118.8 L191.8 120.1 L192.0 119.3 L192.3 117.9 L192.5 116.7 L192.7 115.7 L192.9 117.4 L193.5 118.3 L193.7 119.5 L193.9 118.9 L194.4 118.0 L194.6 116.4 L195.0 114.8 L195.5 113.9 L195.6 114.6 L195.9 116.5 L196.2 117.0 L196.3 118.5 L196.8 118.6 L197.1 120.7 L197.1 121.4 L198.4 120.1 L199.6 120.8 L199.9 122.1 L200.1 123.2 L200.6 123.9 L201.0 125.2 L201.5 126.4 L201.9 127.2 L202.2 128.7 L202.5 130.2" fill="none" stroke="#25258c" stroke-width="1.6" stroke-linejoin="round" />
<path d="M44.6 157.5 L47.3 157.5 L47.3 155.9 L52.6 155.9 L52.6 157.5 L57.9 157.5 L57.9 157.5 L63.1 157.5 L63.1 154.2 L68.4 154.2 L68.4 152.7 L73.7 152.7 L73.7 156.8 L79.0 156.8 L79.0 145.8 L84.3 145.8 L84.3 133.2 L89.6 133.2 L89.6 135.8 L94.8 135.8 L94.8 136.4 L100.1 136.4 L100.1 133.9 L105.4 133.9 L105.4 122.6 L110.7 122.6 L110.7 100.1 L116.0 100.1 L116.0 71.1 L121.3 71.1 L121.3 40.2 L126.6 40.2 L126.6 32.9 L131.8 32.9 L131.8 32.0 L137.1 32.0 L137.1 34.6 L142.4 34.6 L142.4 44.0 L147.7 44.0 L147.7 40.8 L153.0 40.8 L153.0 26.4 L158.3 26.4 L158.3 30.8 L163.6 30.8 L163.6 39.6 L168.8 39.6 L168.8 47.7 L174.1 47.7 L174.1 52.0 L179.4 52.0 L179.4 53.5 L184.7 53.5 L184.7 54.8 L190.0 54.8 L190.0 47.7 L195.3 47.7 L195.3 55.8 L200.6 55.8 L200.6 66.6 L205.8 66.6 L205.8 74.9 L211.1 74.9 L211.1 79.9 L216.4 79.9 L216.4 79.9 L221.7 79.9 L221.7 72.9 L227.0 72.9 L227.0 77.4 L232.3 77.4 L232.3 76.6 L237.5 76.6 L237.5 72.9 L242.8 72.9 L242.8 78.4 L248.1 78.4 L248.1 79.9 L249.8 79.9" fill="none" stroke="#c4101c" stroke-width="1.6" stroke-linejoin="round" />
<path d="M288.0 156.3 L289.2 157.0 L290.4 156.9 L291.6 155.7 L292.8 155.8 L294.0 155.9 L295.2 157.0 L296.4 156.3 L297.6 156.5 L298.8 156.1 L300.0 156.4 L301.2 156.2 L302.4 156.1 L303.6 156.5 L304.8 156.5 L306.0 157.0 L307.2 156.6 L308.4 157.0 L309.6 156.9 L310.8 157.1 L312.0 156.6 L313.2 155.8 L314.4 156.9 L315.6 157.0 L316.8 157.0 L318.0 156.5 L319.2 156.7 L320.4 155.9 L321.6 156.8 L322.8 156.5 L324.0 156.0 L325.2 155.7 L326.4 156.9 L327.6 157.1 L328.8 155.7 L330.0 156.8 L331.2 156.2 L332.4 155.8 L333.6 156.0 L334.8 156.8 L336.0 156.9 L337.2 155.7 L338.4 156.5 L339.6 155.7 L340.8 156.7 L342.0 156.1 L343.2 156.9 L344.4 157.1 L345.6 156.4 L346.8 157.1 L348.0 156.1 L349.2 155.7 L350.4 156.5 L351.6 155.6 L352.8 155.9 L354.0 156.2 L355.1 156.6 L358.3 155.4 L359.5 156.0 L360.8 149.7 L362.0 143.4 L363.3 137.1 L364.2 130.9 L364.8 124.6 L365.8 126.5 L366.4 124.6 L367.3 118.3 L368.1 112.0 L369.5 105.8 L370.8 112.0 L372.1 118.3 L373.4 120.2 L374.2 112.0 L375.0 90.0 L376.0 66.4 L377.4 81.7 L378.6 80.2 L379.8 50.0 L381.2 11.8 L382.7 17.6 L383.8 50.0 L385.0 83.0 L386.5 61.4 L388.4 53.2 L389.6 55.1 L391.5 39.4 L393.4 47.6 L395.3 57.6 L396.5 71.5 L397.8 98.9 L398.5 112.0 L399.8 118.3 L401.0 124.6 L402.3 130.9 L403.5 140.9 L404.8 148.4 L406.7 151.0 L408.5 152.2 L410.4 154.7 L412.3 156.2 L415.5 155.8 L418.0 156.2 L420.5 156.6 L423.0 157.2 L426.0 157.3 L429.5 157.8" fill="none" stroke="#25258c" stroke-width="1.6" stroke-linejoin="round" />
<path d="M308.5 157.2 L340.0 157.2 L340.0 154.7 L356.6 154.7 L356.6 104.6 L372.4 104.6 L372.4 36.4 L388.6 36.4 L388.6 87.3 L404.3 87.3 L404.3 147.8 L420.1 147.8 L420.1 149.5 L444.0 149.5 L444.0 154.1 L467.8 154.1 L467.8 157.2 L484.0 157.2" fill="none" stroke="#c4101c" stroke-width="1.6" stroke-linejoin="round" />
<path d="M532.9 152.9 L533.8 152.5 L535.0 152.7 L536.9 153.1 L538.8 152.7 L540.7 150.8 L541.6 145.2 L542.3 151.5 L543.8 150.2 L545.1 147.7 L546.3 147.1 L547.6 148.3 L548.9 145.2 L549.9 147.1 L550.7 144.6 L551.6 146.4 L552.6 142.7 L553.2 144.6 L554.1 141.4 L554.8 132.6 L555.5 123.8 L556.1 121.3 L557.0 128.9 L557.6 135.1 L558.5 130.1 L559.3 127.6 L560.2 130.1 L561.0 125.1 L561.8 117.5 L562.4 111.3 L562.9 105.6 L563.7 112.5 L564.3 121.3 L565.2 111.9 L566.4 109.4 L567.3 117.5 L568.1 125.1 L569.0 122.6 L570.0 120.1 L570.8 123.8 L572.1 126.3 L573.4 130.1 L574.6 132.6 L575.5 131.4 L576.5 135.1 L577.8 138.3 L578.8 135.1 L579.6 128.9 L580.3 126.3 L581.1 132.0 L582.2 135.1 L583.0 133.9 L584.0 128.9 L584.9 125.7 L585.7 131.4 L586.6 141.4 L587.6 147.1 L588.4 143.9 L589.1 135.1 L589.9 123.8 L590.7 117.5 L591.6 122.6 L592.5 127.6 L593.2 121.3 L594.1 115.0 L595.0 113.1 L595.7 117.5 L596.6 121.3 L597.5 117.5 L598.5 113.8 L599.1 117.5 L600.0 121.3 L601.0 125.1 L601.9 129.5 L602.9 127.6 L603.8 130.1 L604.8 132.0 L605.8 134.5 L606.9 137.0 L607.9 138.3 L609.2 137.6 L610.4 139.5 L611.7 141.4 L612.9 143.3" fill="none" stroke="#25258c" stroke-width="1.6" stroke-linejoin="round" />
<path d="M618.7 136.4 L619.8 140.8 L620.8 137.0 L621.8 132.6 L622.7 136.4 L623.7 133.9 L624.6 130.1 L625.4 122.6 L626.4 110.0 L627.0 60.0 L627.6 30.0 L628.3 9.0 L629.0 45.0 L630.2 51.9 L631.5 53.2 L632.4 57.6 L633.4 68.9 L634.2 80.2 L634.9 83.4 L635.5 75.2 L636.2 62.6 L637.1 53.8 L638.1 51.9 L639.0 55.1 L639.9 61.4 L640.6 65.1 L641.5 72.7 L642.8 81.5 L643.8 88.0 L645.3 96.3 L646.5 107.6 L647.8 123.4" fill="none" stroke="#25258c" stroke-width="1.6" stroke-linejoin="round" />
<path d="M651.6 86.3 L652.5 77.7 L653.2 65.8 L654.1 72.7 L655.0 81.5 L656.0 87.5 L657.2 93.8 L657.9 98.2 L658.9 91.3 L659.5 93.8 L660.4 100.1 L661.6 111.4 L662.3 115.0 L663.5 120.0 L664.8 130.1 L666.0 136.4 L667.3 138.9 L668.5 137.0 L669.8 131.4 L670.8 126.3 L671.7 128.9 L672.6 131.4 L673.6 134.5 L674.8 137.0 L676.1 138.9 L677.3 140.8 L678.6 139.5" fill="none" stroke="#25258c" stroke-width="1.6" stroke-linejoin="round" />
<path d="M683.3 133.2 L683.9 132.2 L684.6 131.4 L685.8 132.6 L687.1 133.2 L687.4 132.0 L687.8 131.5 L688.1 130.3 L688.3 128.9 L689.1 127.4 L689.6 126.3 L690.8 125.1 L691.4 123.9 L692.1 123.2 L692.6 124.5 L693.0 125.7 L693.4 124.3 L693.8 123.0 L694.0 121.9 L695.2 122.6 L696.5 123.8 L697.1 124.7 L697.8 125.7 L699.0 127.0 L700.3 128.2 L701.5 127.6 L702.8 128.9 L703.5 129.8 L704.0 130.7 L704.7 132.4 L705.3 133.2 L706.0 134.5 L706.6 135.8 L707.8 136.4 L708.4 136.9 L709.1 138.3 L710.3 139.5 L712.2 140.2 L714.1 140.5 L715.1 141.3 L716.0 141.4 L717.0 141.5 L717.9 142.4 L718.9 142.8 L719.7 143.3 L721.6 143.9 L722.5 143.3 L723.5 142.9 L724.6 143.3 L725.4 143.7 L726.4 144.1 L727.3 144.6 L728.5 145.4 L729.5 145.0 L730.4 144.2 L732.3 144.6 L734.2 145.2 L735.1 145.5 L736.1 146.2 L738.0 145.8 L739.9 146.4 L741.1 146.2 L741.1 145.1 L741.3 144.3 L741.2 143.3 L741.3 141.9 L741.3 141.3 L741.4 139.8 L741.4 139.0 L741.7 138.2 L741.7 137.2 L741.8 136.4 L741.7 135.1 L741.8 134.4 L741.8 133.1 L741.9 132.2 L742.2 130.7 L742.1 129.4 L742.2 128.8 L742.2 127.1 L742.4 126.3 L743.0 125.1" fill="none" stroke="#25258c" stroke-width="1.6" stroke-linejoin="round" />
<path d="M542.4 158.0 L542.4 149.7 L547.7 149.7 L547.7 141.2 L553.0 141.2 L553.0 143.3 L558.3 143.3 L558.3 153.4 L563.5 153.4 L563.5 157.1 L568.8 157.1 L568.8 154.0 L574.1 154.0 L574.1 147.5 L579.4 147.5 L579.4 137.4 L584.7 137.4 L584.7 131.4 L590.0 131.4 L590.0 129.5 L595.2 129.5 L595.2 125.7 L600.5 125.7 L600.5 125.7 L605.8 125.7 L605.8 137.0 L611.1 137.0 L611.1 133.2 L616.4 133.2 L616.4 128.9 L621.7 128.9 L621.7 77.1 L627.0 77.1 L627.0 41.9 L632.2 41.9 L632.2 41.2 L637.5 41.2 L637.5 54.5 L642.8 54.5 L642.8 80.5 L648.1 80.5 L648.1 72.7 L653.4 72.7 L653.4 67.0 L658.7 67.0 L658.7 88.8 L664.0 88.8 L664.0 107.0 L669.2 107.0 L669.2 131.4 L674.5 131.4 L674.5 135.1 L679.8 135.1 L679.8 123.2 L685.1 123.2 L685.1 123.2 L690.4 123.2 L690.4 120.3 L695.7 120.3 L695.7 118.5 L701.0 118.5 L701.0 126.3 L706.2 126.3 L706.2 129.5 L711.5 129.5 L711.5 141.2 L716.8 141.2 L716.8 154.6 L722.1 154.6 L722.1 157.5 L727.4 157.5 L727.4 157.5 L732.7 157.5 L732.7 151.5 L737.9 151.5 L737.9 147.7 L740.2 147.7" fill="none" stroke="#c4101c" stroke-width="1.6" stroke-linejoin="round" />
<path d="M113.4 238.3 V290.7 M108.1 264.5 H118.8 M118.6 259.5 V289.5 M113.2 274.2 H123.9 M123.9 257.6 V282.0 M118.6 270.2 H129.2 M129.2 276.4 V297.0 M123.8 286.7 H134.5 M134.6 266.4 V281.0 M129.2 273.7 H139.9 M139.6 263.2 V282.0 M134.2 272.7 H144.9 M145.0 288.8 V306.4 M139.7 297.6 H150.3 M150.5 273.3 V288.2 M145.2 281.1 H155.8 M155.3 277.0 V295.1 M150.0 286.6 H160.7 M160.7 295.1 V314.6 M155.3 304.9 H166.0" stroke="#7878be" stroke-width="1" fill="none"/>
<path d="M113.8 222.6 L118.9 227.6 L125.1 231.1 L131.7 233.9 L138.3 233.9 L144.6 236.2 L151.5 238.3 L157.8 241.2 L164.5 243.3 L171.0 246.2 L177.3 249.2 L184.0 250.2 L192.9 250.3 L200.4 248.3 L209.2 246.6 L218.0 246.6 L225.6 247.3 L231.9 245.8 L238.2 245.8 L245.7 247.3 L252.0 247.8" fill="none" stroke="#3c3c3c" stroke-width="1.1" stroke-linejoin="round" stroke-dasharray="2.1 4.7"/>
<path d="M113.8 325.7 L119.5 330.8 L125.1 334.5 L131.4 335.8 L137.7 337.4 L144.6 337.7 L151.5 338.7 L158.4 340.8 L164.7 344.6 L169.8 348.7 L175.4 352.1 L181.7 353.0 L187.9 350.1 L195.4 347.6 L205.5 345.6 L215.5 344.3 L225.6 344.6 L235.6 346.3 L245.7 345.8 L252.5 347.6" fill="none" stroke="#3c3c3c" stroke-width="1.1" stroke-linejoin="round" stroke-dasharray="2.1 4.7"/>
<path d="M113.2 235.4 L118.9 241.2 L123.9 244.0 L129.5 247.1 L133.9 247.7 L139.0 246.4 L144.0 249.3 L150.3 251.9 L156.6 255.0 L162.8 257.0 L169.1 259.5 L175.4 262.4 L182.0 262.9 L187.9 264.7 L196.7 264.9 L203.0 261.6 L208.0 261.4 L214.3 260.4 L223.1 262.4 L228.1 260.4 L234.4 259.1 L240.7 260.4 L247.0 261.1 L252.5 261.6" fill="none" stroke="#3c3c3c" stroke-width="1" stroke-linejoin="round" />
<path d="M113.2 311.9 L118.9 316.9 L123.9 321.3 L128.9 321.1 L134.6 324.5 L139.6 324.5 L144.6 323.6 L150.3 324.1 L155.3 325.1 L160.3 327.4 L165.4 331.4 L170.4 335.8 L176.0 339.2 L181.7 339.2 L186.7 336.7 L192.9 335.0 L197.9 332.5 L205.5 331.8 L213.0 330.2 L220.6 330.7 L229.4 330.2 L235.6 332.5 L244.4 331.8 L252.5 337.5" fill="none" stroke="#3c3c3c" stroke-width="1" stroke-linejoin="round" />
<path d="M113.4 273.7 L116.3 277.1 L120.1 280.2 L123.9 282.4 L128.9 284.1 L134.6 286.0 L139.6 285.6 L144.0 286.6 L150.3 287.8 L155.3 289.5 L160.3 291.3 L165.4 293.9 L170.4 297.4 L176.0 301.1 L181.7 301.1 L188.0 300.4 L192.9 299.1 L200.4 297.3 L206.7 296.6 L213.0 295.3 L223.1 296.1 L229.4 295.0 L235.6 296.1 L244.4 296.1 L252.5 299.1" fill="none" stroke="#b80c18" stroke-width="1.9" stroke-linejoin="round" />
<path d="M380.3 283.5 V295.6 M374.9 290.5 H385.7 M396.4 296.0 V307.3 M391.0 301.9 H401.8" stroke="#7878be" stroke-width="1" fill="none"/>
<path d="M364.6 206.3 L367.7 213.2 L370.8 219.5 L374.0 225.8 L376.9 232.1 L379.9 239.0 L384.9 242.5 L391.6 246.1" fill="none" stroke="#3c3c3c" stroke-width="1.1" stroke-linejoin="round" stroke-dasharray="2.1 4.7"/>
<path d="M364.6 221.4 L374.3 243.0 L380.3 255.6 L396.0 265.9" fill="none" stroke="#3c3c3c" stroke-width="1" stroke-linejoin="round" />
<path d="M364.9 252.8 L380.3 285.1 L396.0 291.2" fill="none" stroke="#b80c18" stroke-width="1.9" stroke-linejoin="round" />
<path d="M364.9 284.2 L368.3 291.0 L380.3 313.9 L396.0 316.8" fill="none" stroke="#3c3c3c" stroke-width="1" stroke-linejoin="round" />
<path d="M364.6 299.5 L367.7 306.1 L371.5 313.0 L374.6 318.6 L377.8 324.9 L381.5 330.6 L388.4 332.2 L395.4 334.4" fill="none" stroke="#3c3c3c" stroke-width="1.1" stroke-linejoin="round" stroke-dasharray="2.1 4.7"/>
<path d="M627.0 252.0 V277.0 M621.6 264.7 H632.4 M637.5 282.0 V294.6 M632.1 288.3 H642.9 M653.7 280.1 V304.4 M648.4 292.3 H659.1" stroke="#7878be" stroke-width="1" fill="none"/>
<path d="M624.5 228.2 L628.3 234.5 L632.4 240.1 L637.7 242.4 L644.0 240.1 L650.3 236.1 L656.6 236.1 L662.8 240.1" fill="none" stroke="#3c3c3c" stroke-width="1.1" stroke-linejoin="round" stroke-dasharray="2.1 4.7"/>
<path d="M624.3 242.0 L629.5 250.8 L634.9 258.0 L640.2 258.4 L645.2 256.5 L650.3 250.8 L655.3 249.2 L661.6 254.0 L666.4 256.5" fill="none" stroke="#3c3c3c" stroke-width="1" stroke-linejoin="round" />
<path d="M624.3 276.4 L629.5 287.0 L634.6 290.8 L640.2 286.4 L645.2 282.9 L650.3 284.2 L655.3 285.2 L661.0 286.4 L666.4 289.6" fill="none" stroke="#b80c18" stroke-width="1.9" stroke-linejoin="round" />
<path d="M624.3 309.8 L629.8 323.2 L634.6 323.6 L640.0 314.5 L645.2 309.8 L650.3 317.6 L655.9 322.6 L661.2 319.9 L666.4 322.9" fill="none" stroke="#3c3c3c" stroke-width="1" stroke-linejoin="round" />
<path d="M624.5 325.1 L627.0 331.4 L630.2 337.5 L635.8 336.7 L640.2 330.4 L645.5 326.6 L650.3 332.4 L655.9 335.8 L662.8 335.8" fill="none" stroke="#3c3c3c" stroke-width="1.1" stroke-linejoin="round" stroke-dasharray="2.1 4.7"/>
<text text-anchor="end" transform="translate(38.90 158.50) scale(1 1)" font-size="10">0</text>
<text text-anchor="end" transform="translate(38.90 136.55) scale(1 1)" font-size="10">20</text>
<text text-anchor="end" transform="translate(38.90 111.40) scale(1 1)" font-size="10">40</text>
<text text-anchor="end" transform="translate(38.90 86.25) scale(1 1)" font-size="10">60</text>
<text text-anchor="end" transform="translate(38.90 61.10) scale(1 1)" font-size="10">80</text>
<text text-anchor="end" transform="translate(38.90 35.95) scale(1 1)" font-size="10">100</text>
<text text-anchor="end" transform="translate(38.90 10.80) scale(1 1)" font-size="10">120</text>
<text text-anchor="end" transform="translate(283.90 158.70) scale(1 1)" font-size="10">0</text>
<text text-anchor="end" transform="translate(283.90 130.36) scale(1 1)" font-size="10">100</text>
<text text-anchor="end" transform="translate(283.90 98.82) scale(1 1)" font-size="10">200</text>
<text text-anchor="end" transform="translate(283.90 67.28) scale(1 1)" font-size="10">300</text>
<text text-anchor="end" transform="translate(283.90 35.74) scale(1 1)" font-size="10">400</text>
<text text-anchor="end" transform="translate(283.90 6.60) scale(1 1)" font-size="10">500</text>
<text text-anchor="end" transform="translate(529.00 158.60) scale(1 1)" font-size="10">0</text>
<text text-anchor="end" transform="translate(529.00 122.40) scale(1 1)" font-size="10">100</text>
<text text-anchor="end" transform="translate(529.00 83.00) scale(1 1)" font-size="10">200</text>
<text text-anchor="end" transform="translate(529.00 43.60) scale(1 1)" font-size="10">300</text>
<text text-anchor="end" transform="translate(529.00 6.60) scale(1 1)" font-size="10">400</text>
<text text-anchor="end" transform="translate(38.90 355.80) scale(1 1)" font-size="10">0</text>
<text text-anchor="end" transform="translate(38.90 315.17) scale(1 1)" font-size="10">500</text>
<text text-anchor="end" transform="translate(38.90 271.33) scale(1 1)" font-size="10">1000</text>
<text text-anchor="end" transform="translate(38.90 227.50) scale(1 1)" font-size="10">1500</text>
<text text-anchor="end" transform="translate(283.90 355.80) scale(1 1)" font-size="10">0</text>
<text text-anchor="end" transform="translate(283.90 315.17) scale(1 1)" font-size="10">500</text>
<text text-anchor="end" transform="translate(283.90 271.33) scale(1 1)" font-size="10">1000</text>
<text text-anchor="end" transform="translate(283.90 227.50) scale(1 1)" font-size="10">1500</text>
<text text-anchor="end" transform="translate(529.00 355.80) scale(1 1)" font-size="10">0</text>
<text text-anchor="end" transform="translate(529.00 315.17) scale(1 1)" font-size="10">500</text>
<text text-anchor="end" transform="translate(529.00 271.33) scale(1 1)" font-size="10">1000</text>
<text text-anchor="end" transform="translate(529.00 227.50) scale(1 1)" font-size="10">1500</text>
<text text-anchor="middle" textLength="25.2" lengthAdjust="spacing" transform="translate(76.00 169.60) scale(1 1)" font-size="10">05:15</text>
<text text-anchor="middle" textLength="25.2" lengthAdjust="spacing" transform="translate(111.05 169.60) scale(1 1)" font-size="10">05:20</text>
<text text-anchor="middle" textLength="25.2" lengthAdjust="spacing" transform="translate(146.10 169.60) scale(1 1)" font-size="10">05:25</text>
<text text-anchor="middle" textLength="25.2" lengthAdjust="spacing" transform="translate(181.15 169.60) scale(1 1)" font-size="10">05:30</text>
<text text-anchor="middle" textLength="25.2" lengthAdjust="spacing" transform="translate(216.20 169.60) scale(1 1)" font-size="10">05:35</text>
<text text-anchor="middle" textLength="25.2" lengthAdjust="spacing" transform="translate(306.45 169.60) scale(1 1)" font-size="10">12:36</text>
<text text-anchor="middle" textLength="25.2" lengthAdjust="spacing" transform="translate(348.80 169.60) scale(1 1)" font-size="10">12:38</text>
<text text-anchor="middle" textLength="25.2" lengthAdjust="spacing" transform="translate(391.15 169.60) scale(1 1)" font-size="10">12:40</text>
<text text-anchor="middle" textLength="25.2" lengthAdjust="spacing" transform="translate(433.50 169.60) scale(1 1)" font-size="10">12:42</text>
<text text-anchor="middle" textLength="25.2" lengthAdjust="spacing" transform="translate(475.85 169.60) scale(1 1)" font-size="10">12:44</text>
<text text-anchor="middle" textLength="25.2" lengthAdjust="spacing" transform="translate(566.40 169.60) scale(1 1)" font-size="10">02:00</text>
<text text-anchor="middle" textLength="25.2" lengthAdjust="spacing" transform="translate(601.43 169.60) scale(1 1)" font-size="10">02:05</text>
<text text-anchor="middle" textLength="25.2" lengthAdjust="spacing" transform="translate(636.46 169.60) scale(1 1)" font-size="10">02:10</text>
<text text-anchor="middle" textLength="25.2" lengthAdjust="spacing" transform="translate(671.49 169.60) scale(1 1)" font-size="10">02:15</text>
<text text-anchor="middle" textLength="25.2" lengthAdjust="spacing" transform="translate(706.52 169.60) scale(1 1)" font-size="10">02:20</text>
<text text-anchor="middle" textLength="25.2" lengthAdjust="spacing" transform="translate(76.00 367.10) scale(1 1)" font-size="10">05:15</text>
<text text-anchor="middle" textLength="25.2" lengthAdjust="spacing" transform="translate(111.05 367.10) scale(1 1)" font-size="10">05:20</text>
<text text-anchor="middle" textLength="25.2" lengthAdjust="spacing" transform="translate(146.10 367.10) scale(1 1)" font-size="10">05:25</text>
<text text-anchor="middle" textLength="25.2" lengthAdjust="spacing" transform="translate(181.15 367.10) scale(1 1)" font-size="10">05:30</text>
<text text-anchor="middle" textLength="25.2" lengthAdjust="spacing" transform="translate(216.20 367.10) scale(1 1)" font-size="10">05:35</text>
<text text-anchor="middle" textLength="25.2" lengthAdjust="spacing" transform="translate(306.45 367.10) scale(1 1)" font-size="10">12:36</text>
<text text-anchor="middle" textLength="25.2" lengthAdjust="spacing" transform="translate(348.80 367.10) scale(1 1)" font-size="10">12:38</text>
<text text-anchor="middle" textLength="25.2" lengthAdjust="spacing" transform="translate(391.15 367.10) scale(1 1)" font-size="10">12:40</text>
<text text-anchor="middle" textLength="25.2" lengthAdjust="spacing" transform="translate(433.50 367.10) scale(1 1)" font-size="10">12:42</text>
<text text-anchor="middle" textLength="25.2" lengthAdjust="spacing" transform="translate(475.85 367.10) scale(1 1)" font-size="10">12:44</text>
<text text-anchor="middle" textLength="25.2" lengthAdjust="spacing" transform="translate(566.40 367.10) scale(1 1)" font-size="10">02:00</text>
<text text-anchor="middle" textLength="25.2" lengthAdjust="spacing" transform="translate(601.43 367.10) scale(1 1)" font-size="10">02:05</text>
<text text-anchor="middle" textLength="25.2" lengthAdjust="spacing" transform="translate(636.46 367.10) scale(1 1)" font-size="10">02:10</text>
<text text-anchor="middle" textLength="25.2" lengthAdjust="spacing" transform="translate(671.49 367.10) scale(1 1)" font-size="10">02:15</text>
<text text-anchor="middle" textLength="25.2" lengthAdjust="spacing" transform="translate(706.52 367.10) scale(1 1)" font-size="10">02:20</text>
<text x="99.20" y="182.75" textLength="13.8" lengthAdjust="spacing" font-size="10">UT</text>
<text x="115.20" y="182.75" textLength="10.8" lengthAdjust="spacing" font-size="10">on</text>
<text x="131.00" y="182.75" textLength="62.1" lengthAdjust="spacing" font-size="10">2012–Jul–19</text>
<text x="342.70" y="182.75" textLength="13.3" lengthAdjust="spacing" font-size="10">UT</text>
<text x="358.40" y="182.75" textLength="10.8" lengthAdjust="spacing" font-size="10">on</text>
<text x="373.90" y="182.75" textLength="66.7" lengthAdjust="spacing" font-size="10">2012–Nov–20</text>
<text x="587.70" y="182.75" textLength="13.3" lengthAdjust="spacing" font-size="10">UT</text>
<text x="603.40" y="182.75" textLength="10.8" lengthAdjust="spacing" font-size="10">on</text>
<text x="618.90" y="182.75" textLength="67.2" lengthAdjust="spacing" font-size="10">2013–May–13</text>
<text x="67.60" y="380.80" textLength="21.6" lengthAdjust="spacing" font-size="10">Start</text>
<text x="94.10" y="380.80" textLength="21.4" lengthAdjust="spacing" font-size="10">Time</text>
<text x="120.90" y="380.80" textLength="54.7" lengthAdjust="spacing" font-size="10">(19–Jul–12</text>
<text x="181.00" y="380.80" textLength="44.6" lengthAdjust="spacing" font-size="10">05:10:02)</text>
<text x="310.60" y="380.80" textLength="22.1" lengthAdjust="spacing" font-size="10">Start</text>
<text x="337.40" y="380.80" textLength="21.6" lengthAdjust="spacing" font-size="10">Time</text>
<text x="363.70" y="380.80" textLength="57.9" lengthAdjust="spacing" font-size="10">(20–Nov–12</text>
<text x="427.00" y="380.80" textLength="44.1" lengthAdjust="spacing" font-size="10">12:35:02)</text>
<text x="555.10" y="380.80" textLength="22.1" lengthAdjust="spacing" font-size="10">Start</text>
<text x="582.10" y="380.80" textLength="21.4" lengthAdjust="spacing" font-size="10">Time</text>
<text x="608.40" y="380.80" textLength="59.7" lengthAdjust="spacing" font-size="10">(13–May–13</text>
<text x="672.80" y="380.80" textLength="44.8" lengthAdjust="spacing" font-size="10">01:55:02)</text>
<text transform="translate(8.60 353.90) rotate(-90)" textLength="34.3" lengthAdjust="spacing" font-size="10">altitude</text>
<text transform="translate(8.60 315.20) rotate(-90)" textLength="27.6" lengthAdjust="spacing" font-size="10">above</text>
<text transform="translate(8.60 282.70) rotate(-90)" textLength="56.7" lengthAdjust="spacing" font-size="10">photosphere</text>
<text transform="translate(8.60 221.60) rotate(-90)" textLength="20.7" lengthAdjust="spacing" font-size="10">[km]</text>
<text transform="translate(14.40 103.80) rotate(-90)" textLength="34.0" lengthAdjust="spacing" font-size="10">counts</text>
<text transform="translate(14.40 68.10) rotate(-90)" textLength="5.1" lengthAdjust="spacing" font-size="10">s</text>
<text transform="translate(9.6 62.9) rotate(-90)" font-size="6.6" textLength="7.6" lengthAdjust="spacing">–1</text>
</svg>
</body></html>
